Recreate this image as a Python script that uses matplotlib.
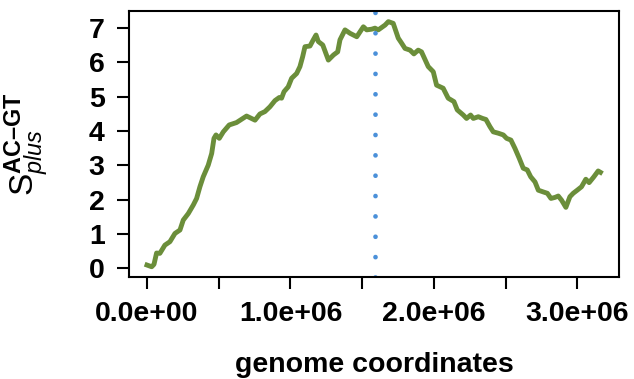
import matplotlib
matplotlib.use("Agg")
import matplotlib.pyplot as plt
from matplotlib.ticker import FixedLocator, FuncFormatter

# genome position (Mb) and S_plus^{AC-GT} values
pos_mb = [0.0, 0.033, 0.049, 0.067, 0.09, 0.125, 0.16, 0.195, 0.23, 0.253,
          0.288, 0.323, 0.346, 0.369, 0.392, 0.427, 0.451, 0.467, 0.481, 0.504,
          0.532, 0.573, 0.624, 0.694, 0.753, 0.787, 0.822, 0.857, 0.892, 0.922,
          0.938, 0.955, 0.984, 1.008, 1.043, 1.066, 1.085, 1.101, 1.136, 1.159,
          1.178, 1.194, 1.225, 1.264, 1.300, 1.329, 1.345, 1.380, 1.415, 1.462,
          1.508, 1.531, 1.566, 1.589, 1.612, 1.659, 1.682, 1.716, 1.751, 1.775,
          1.798, 1.833, 1.860, 1.890, 1.913, 1.960, 1.995, 2.018, 2.064, 2.099,
          2.139, 2.162, 2.204, 2.227, 2.255, 2.274, 2.309, 2.339, 2.362, 2.390,
          2.413, 2.448, 2.483, 2.506, 2.536, 2.564, 2.594, 2.622, 2.650, 2.674,
          2.704, 2.727, 2.761, 2.790, 2.815, 2.843, 2.866, 2.889, 2.919, 2.947,
          2.970, 2.998, 3.028, 3.058, 3.081, 3.114, 3.144, 3.160]
skew = [0.10, 0.05, 0.12, 0.45, 0.44, 0.68, 0.78, 1.02, 1.12, 1.41,
        1.60, 1.85, 2.04, 2.38, 2.67, 3.01, 3.35, 3.79, 3.89, 3.79,
        3.98, 4.18, 4.25, 4.44, 4.32, 4.50, 4.57, 4.71, 4.89, 4.98,
        4.96, 5.15, 5.29, 5.54, 5.68, 5.88, 6.17, 6.46, 6.48, 6.66,
        6.80, 6.61, 6.51, 6.07, 6.22, 6.31, 6.66, 6.95, 6.85, 6.75,
        7.04, 6.95, 6.97, 7.00, 6.95, 7.09, 7.19, 7.14, 6.71, 6.56,
        6.41, 6.36, 6.25, 6.36, 6.31, 5.88, 5.73, 5.34, 5.25, 4.96,
        4.86, 4.62, 4.47, 4.37, 4.47, 4.37, 4.42, 4.37, 4.34, 4.13,
        3.98, 3.94, 3.89, 3.79, 3.74, 3.50, 3.21, 2.92, 2.87, 2.67,
        2.52, 2.28, 2.23, 2.19, 2.04, 2.07, 2.11, 1.99, 1.78, 2.09,
        2.19, 2.28, 2.38, 2.60, 2.50, 2.67, 2.84, 2.80]
origin_mb = 1.589  # dotted vertical marker

xticks = [0.0, 0.5e6, 1.0e6, 1.5e6, 2.0e6, 2.5e6, 3.0e6]
labelled = [0.0, 1.0e6, 2.0e6, 3.0e6]
yticks = [0, 1, 2, 3, 4, 5, 6, 7]

plt.rcParams['font.family'] = ['Liberation Sans', 'DejaVu Sans']
plt.rcParams['mathtext.fontset'] = 'custom'
plt.rcParams['mathtext.rm'] = 'Liberation Sans'
plt.rcParams['mathtext.it'] = 'Liberation Sans:italic'
plt.rcParams['mathtext.bf'] = 'Liberation Sans:bold'

fig = plt.figure(figsize=(6.34, 3.79), dpi=100)
ax = fig.add_axes([0.2035, 0.269, 0.7728, 0.702])

x = [p * 1e6 for p in pos_mb]
ax.plot(x, skew, color='#6B8E3A', lw=3.5, solid_joinstyle='round')
ax.axvline(origin_mb * 1e6, color='#4A90D9', lw=3.4,
           linestyle=(0, (0.01, 4.3)), dash_capstyle='round')

ax.set_xlim(-0.125e6, 3.289e6)
ax.set_ylim(-0.25, 7.5)

ax.xaxis.set_major_locator(FixedLocator(xticks))
ax.xaxis.set_major_formatter(FuncFormatter(
    lambda v, _: ('%.1e' % v) if any(abs(v - l) < 1 for l in labelled) else ''))
ax.set_yticks(yticks)

for s in ax.spines.values():
    s.set_linewidth(1.5)
ax.tick_params(length=8.6, width=1.5, labelsize=20.5, pad=9)
for lab in ax.get_xticklabels() + ax.get_yticklabels():
    lab.set_fontweight('bold')

ax.set_xlabel('genome coordinates', fontsize=20.5, fontweight='bold', labelpad=18)
ax.set_ylabel('$\\mathrm{S}^{\\mathbf{AC\u2013GT}}_{plus}$', fontsize=24, labelpad=27)

fig.savefig('out.png', dpi=100)
